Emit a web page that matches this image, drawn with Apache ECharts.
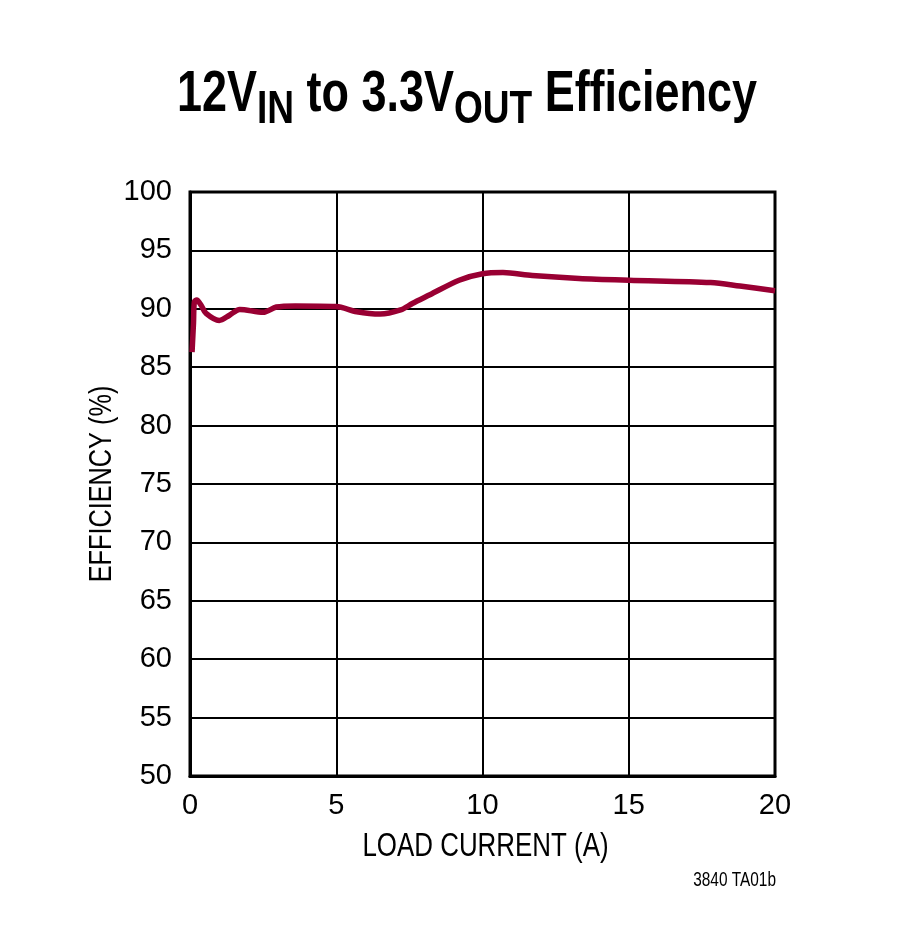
<!DOCTYPE html>
<html>
<head>
<meta charset="utf-8">
<script src="https://cdn.jsdelivr.net/npm/echarts@6/dist/echarts.min.js"></script>
<style>
html,body{margin:0;padding:0;background:#fff;}
#chart{width:900px;height:947px;}
</style>
</head>
<body>
<div id="chart"></div>
<script>
// Data
var loadCurrent = [0.07, 0.12, 0.15, 0.23, 0.38, 0.55, 1.0, 1.35, 1.7, 2.5, 2.95, 3.6, 5.0, 5.7, 6.5, 7.2, 7.6, 8.2, 9.2, 10.0, 10.7, 11.7, 13.3, 15.0, 17.8, 18.8, 20.0];
var efficiency  = [86.3, 88.8, 90.6, 90.75, 90.3, 89.6, 89.0, 89.45, 89.95, 89.7, 90.15, 90.25, 90.2, 89.75, 89.55, 89.9, 90.45, 91.2, 92.45, 93.0, 93.1, 92.85, 92.6, 92.45, 92.25, 91.95, 91.55];
var xTicks = [0, 5, 10, 15, 20];
var yTicks = [50, 55, 60, 65, 70, 75, 80, 85, 90, 95, 100];
var titleParts = [
  { text: '12V', sub: false },
  { text: 'IN', sub: true },
  { text: ' to 3.3V', sub: false },
  { text: 'OUT', sub: true },
  { text: ' Efficiency', sub: false }
];
var xName = 'LOAD CURRENT (A)';
var yName = 'EFFICIENCY (%)';
var footNote = '3840 TA01b';

var FAM = "'Liberation Sans', Arial, Helvetica, sans-serif";
var seriesData = loadCurrent.map(function (x, i) { return [x, efficiency[i]]; });

// measure title pieces to lay out sub-scripted title
var ctx = document.createElement('canvas').getContext('2d');
var MAIN_SIZE = 57, SUB_SIZE = 47;
function fontOf(sub) { return 'bold ' + (sub ? SUB_SIZE : MAIN_SIZE) + 'px ' + FAM; }
var offsets = [], total = 0;
titleParts.forEach(function (p) {
  ctx.font = fontOf(p.sub);
  offsets.push(total);
  total += ctx.measureText(p.text).width;
});
var TITLE_W = 580, TITLE_CX = 467;
var ts = TITLE_W / total;
var titleLeft = TITLE_CX - TITLE_W / 2;
var titleGraphics = titleParts.map(function (p, i) {
  var size = p.sub ? SUB_SIZE : MAIN_SIZE;
  var baseline = p.sub ? 126 : 115;
  return {
    type: 'text', x: titleLeft + offsets[i] * ts, y: baseline - 0.3465 * size,
    scaleX: ts, z: 10,
    style: { text: p.text, font: fontOf(p.sub), fill: '#000', align: 'left', verticalAlign: 'middle' }
  };
});

var chart = echarts.init(document.getElementById('chart'));
chart.setOption({
  backgroundColor: '#fff',
  animation: false,
  grid: { left: 190, right: 125, top: 192, bottom: 171, show: true, borderColor: '#000', borderWidth: 3, backgroundColor: 'transparent' },
  xAxis: {
    type: 'value', min: xTicks[0], max: xTicks[xTicks.length - 1], interval: 5,
    axisLine: { show: true, lineStyle: { color: '#000', width: 3 } },
    axisTick: { show: false },
    axisLabel: { fontFamily: FAM, fontSize: 29, color: '#000', margin: 15 },
    splitLine: { show: true, lineStyle: { color: '#000', width: 2 } }
  },
  yAxis: {
    type: 'value', min: yTicks[0], max: yTicks[yTicks.length - 1], interval: 5,
    axisLine: { show: true, lineStyle: { color: '#000', width: 3 } },
    axisTick: { show: false },
    axisLabel: { fontFamily: FAM, fontSize: 29, color: '#000', margin: 18 },
    splitLine: { show: true, lineStyle: { color: '#000', width: 2 } }
  },
  series: [{
    type: 'line', data: seriesData, smooth: 0.3, showSymbol: false,
    lineStyle: { color: '#990033', width: 5.5 }, z: 5
  }],
  graphic: titleGraphics.concat([
    {
      type: 'text', x: 102, y: 484, rotation: Math.PI / 2, scaleX: 0.79, z: 10,
      style: { text: yName, font: '32px ' + FAM, fill: '#000', align: 'center', verticalAlign: 'middle' }
    },
    {
      type: 'text', x: 485.5, y: 847, scaleX: 0.785, z: 10,
      style: { text: xName, font: '33px ' + FAM, fill: '#000', align: 'center', verticalAlign: 'middle' }
    },
    {
      type: 'text', x: 776, y: 880.5, scaleX: 0.79, z: 10,
      style: { text: footNote, font: '19.5px ' + FAM, fill: '#000', align: 'right', verticalAlign: 'middle' }
    }
  ])
});
</script>
</body>
</html>
